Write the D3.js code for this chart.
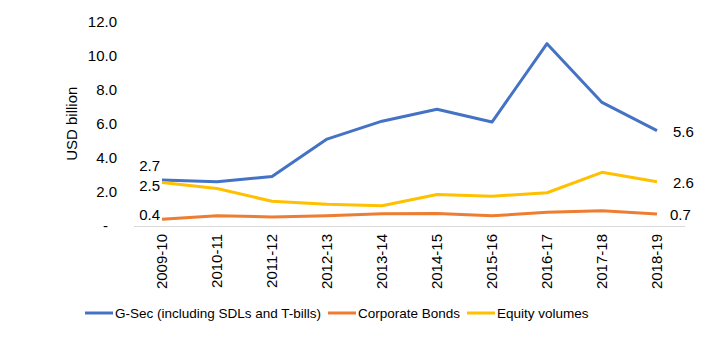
<!DOCTYPE html>
<html>
<head>
<meta charset="utf-8">
<script src="https://cdn.jsdelivr.net/npm/d3@7"></script>
<style>
  body { margin: 0; background: #fff; }
  text { font-family: 'Liberation Sans', Arial, sans-serif; fill: #000; }
</style>
</head>
<body>
<div id="chart"></div>
<script>
(function () {
  let width = 727,
    height = 347;

  let years = ['2009-10', '2010-11', '2011-12', '2012-13', '2013-14',
    '2014-15', '2015-16', '2016-17', '2017-18', '2018-19'];
  let gsec = [2.7, 2.6, 2.9, 5.1, 6.15, 6.85, 6.1, 10.7, 7.25, 5.6];
  let corporate = [0.4, 0.6, 0.53, 0.6, 0.72, 0.74, 0.6, 0.8, 0.9, 0.7];
  let equity = [2.55, 2.2, 1.45, 1.27, 1.19, 1.85, 1.75, 1.95, 3.15, 2.6];
  let yTicks = [0, 2, 4, 6, 8, 10, 12];

  let series = [
    { name: 'G-Sec (including SDLs and T-bills)', values: gsec, color: '#4472C4' },
    { name: 'Corporate Bonds', values: corporate, color: '#ED7D31' },
    { name: 'Equity volumes', values: equity, color: '#FFC000' }
  ];

  let svg = d3.select('#chart').append('svg')
    .attr('width', width)
    .attr('height', height);

  let xScale = d3.scalePoint()
    .domain(years)
    .range([162, 657]);

  let yScale = d3.scaleLinear()
    .domain([0, 12])
    .range([226, 21.5]);

  // y tick labels (no axis line)
  svg.append('g').selectAll('text.ytick')
    .data(yTicks).enter()
    .append('text')
    .attr('class', 'ytick')
    .attr('x', (d) => d === 0 ? 108 : 117)
    .attr('y', (d) => yScale(d))
    .attr('dy', '0.35em')
    .attr('text-anchor', 'end')
    .style('font-size', '15px')
    .text((d) => d === 0 ? '-' : d.toFixed(1));

  svg.append('text')
    .attr('transform', 'translate(77,' + yScale(6) + ') rotate(-90)')
    .attr('text-anchor', 'middle')
    .style('font-size', '15px')
    .text('USD billion');

  // baseline
  svg.append('line')
    .attr('x1', 134)
    .attr('x2', 685)
    .attr('y1', yScale(0) + 0.5)
    .attr('y2', yScale(0) + 0.5)
    .attr('stroke', '#d9d9d9')
    .attr('stroke-width', 1);

  // x labels
  svg.append('g').selectAll('text.xlabel')
    .data(years).enter()
    .append('text')
    .attr('class', 'xlabel')
    .attr('transform', (d) => 'translate(' + xScale(d) + ',234) rotate(-90)')
    .attr('dy', '0.35em')
    .attr('text-anchor', 'end')
    .style('font-size', '15px')
    .text((d) => d);

  let line = d3.line()
    .x((d, i) => xScale(years[i]))
    .y((d) => yScale(d));

  svg.append('g').selectAll('path.series')
    .data(series).enter()
    .append('path')
    .attr('class', 'series')
    .attr('d', (d) => line(d.values))
    .attr('fill', 'none')
    .attr('stroke', (d) => d.color)
    .attr('stroke-width', 3)
    .attr('stroke-linejoin', 'round');

  // data labels: first and last points
  let firstOffsets = [-14, -4, 3];
  let lastX = [16, 13, 16];
  let lastOffsets = [1, 1, 1];
  series.forEach((s, k) => {
    let v0 = s.values[0];
    let vn = s.values[s.values.length - 1];
    svg.append('text')
      .attr('x', xScale(years[0]) - 2)
      .attr('y', yScale(v0) + firstOffsets[k])
      .attr('dy', '0.35em')
      .attr('text-anchor', 'end')
      .style('font-size', '15px')
      .text(v0.toFixed(1));
    svg.append('text')
      .attr('x', xScale(years[years.length - 1]) + lastX[k])
      .attr('y', yScale(vn) + lastOffsets[k])
      .attr('dy', '0.35em')
      .attr('text-anchor', 'start')
      .style('font-size', '15px')
      .text(vn.toFixed(1));
  });

  // legend
  let legendX = [85, 328, 467];
  let legend = svg.append('g').selectAll('g.legend')
    .data(series).enter()
    .append('g')
    .attr('class', 'legend')
    .attr('transform', (d, i) => 'translate(' + legendX[i] + ',313)');

  legend.append('line')
    .attr('x1', 0)
    .attr('x2', 28)
    .attr('stroke', (d) => d.color)
    .attr('stroke-width', 3);

  legend.append('text')
    .attr('x', 30)
    .attr('dy', '0.35em')
    .style('font-size', '13.5px')
    .text((d) => d.name);
})();
</script>
</body>
</html>
